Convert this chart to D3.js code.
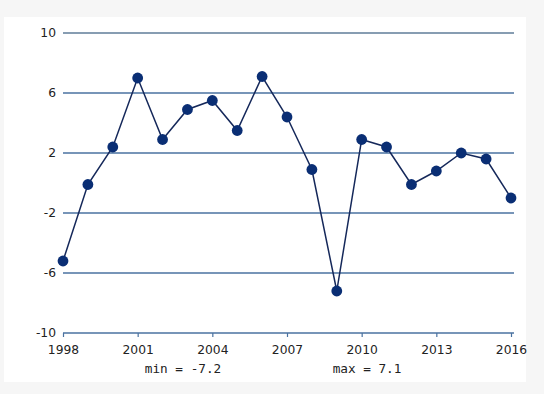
<!DOCTYPE html>
<html>
<head>
<meta charset="utf-8">
<script src="https://cdn.jsdelivr.net/npm/d3@7"></script>
<style>
  body { margin: 0; background: #f6f6f6; }
  svg { display: block; }
</style>
</head>
<body>
<div id="visual"></div>
<script>
// data
const years = [1998, 1999, 2000, 2001, 2002, 2003, 2004, 2005, 2006, 2007,
               2008, 2009, 2010, 2011, 2012, 2013, 2014, 2015, 2016];
const values = [-5.2, -0.1, 2.4, 7.0, 2.9, 4.9, 5.5, 3.5, 7.1, 4.4,
                0.9, -7.2, 2.9, 2.4, -0.1, 0.8, 2.0, 1.6, -1.0];
const yTicks = [-10, -6, -2, 2, 6, 10];
const xTicks = [1998, 2001, 2004, 2007, 2010, 2013, 2016];

const width = 544, height = 394;
const margin = {top: 33, right: 33, bottom: 61, left: 63};

const svg = d3.select("#visual")
  .append("svg")
  .attr("width", width)
  .attr("height", height);

// white panel
svg.append("rect")
  .attr("x", 4).attr("y", 17)
  .attr("width", 522).attr("height", 365)
  .attr("fill", "#ffffff");

const x = d3.scaleLinear()
  .domain([1998, 2016])
  .range([margin.left, 511]);

const y = d3.scaleLinear()
  .domain([-10, 10])
  .range([height - margin.bottom, margin.top]);

// grid lines
svg.append("g")
  .selectAll("line")
  .data(yTicks)
  .enter()
  .append("line")
  .attr("x1", margin.left)
  .attr("x2", 514)
  .attr("y1", d => y(d))
  .attr("y2", d => y(d))
  .attr("stroke", (d, i) => i == yTicks.length - 1 ? "#5f7d98" : "#4a72a0")
  .attr("stroke-width", 1.4);

// y labels
svg.append("g")
  .selectAll("text")
  .data(yTicks)
  .enter()
  .append("text")
  .attr("x", margin.left - 7)
  .attr("y", d => y(d))
  .attr("dy", "0.35em")
  .attr("text-anchor", "end")
  .style("font-family", "'DejaVu Sans', Verdana, sans-serif")
  .style("font-size", "12.3px")
  .attr("fill", "#222")
  .text(d => d);

// x axis
const xAxis = svg.append("g")
  .attr("transform", "translate(0," + y(-10) + ")")
  .call(d3.axisBottom(x)
    .tickValues(xTicks)
    .tickFormat(d3.format("d"))
    .tickSize(4)
    .tickSizeOuter(0));
xAxis.select(".domain").remove();
xAxis.selectAll("line").attr("stroke", "#4a72a0").attr("stroke-width", 1.2);
xAxis.selectAll("text")
  .attr("y", 12)
  .attr("fill", "#222")
  .style("font-family", "'DejaVu Sans', Verdana, sans-serif")
  .style("font-size", "12.3px");

// line
const line = d3.line()
  .x((d, i) => x(years[i]))
  .y(d => y(d));

svg.append("path")
  .datum(values)
  .attr("d", line)
  .attr("fill", "none")
  .attr("stroke", "#15285a")
  .attr("stroke-width", 1.5);

svg.append("g")
  .selectAll("circle")
  .data(values)
  .enter()
  .append("circle")
  .attr("cx", (d, i) => x(years[i]))
  .attr("cy", d => y(d))
  .attr("r", 5.4)
  .attr("fill", "#0a2e74");

// min / max notes
const minV = d3.min(values), maxV = d3.max(values);
svg.append("text")
  .attr("x", 183).attr("y", 373)
  .attr("text-anchor", "middle")
  .style("font-family", "'DejaVu Sans Mono', monospace")
  .style("font-size", "12.7px")
  .attr("fill", "#222")
  .text("min = " + minV);
svg.append("text")
  .attr("x", 367).attr("y", 373)
  .attr("text-anchor", "middle")
  .style("font-family", "'DejaVu Sans Mono', monospace")
  .style("font-size", "12.7px")
  .attr("fill", "#222")
  .text("max = " + maxV);
</script>
</body>
</html>
